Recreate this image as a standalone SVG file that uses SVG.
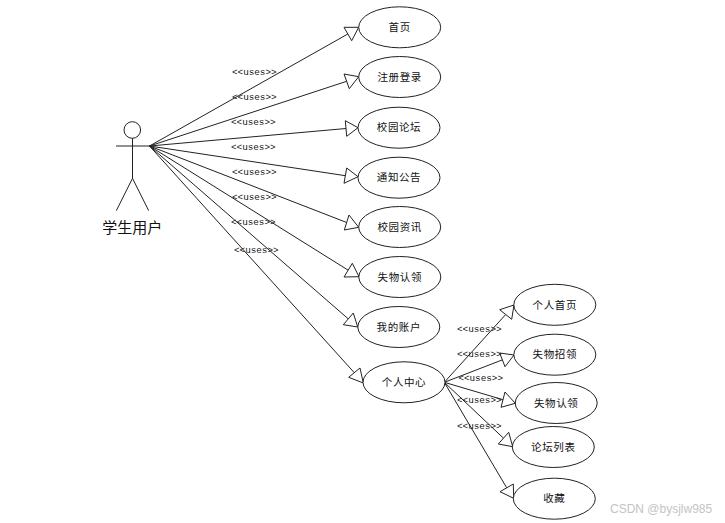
<svg xmlns="http://www.w3.org/2000/svg" width="725" height="523" viewBox="0 0 725 523">
<style>
.bg{fill:#fff}
ellipse{fill:#fff;stroke:#222;stroke-width:1}
.c line,.a line,.a circle{stroke:#222;stroke-width:1;fill:#fff}
.c polygon{fill:#fff;stroke:#222;stroke-width:1}
text{fill:#111;text-anchor:middle}
.n{font:10.5px "Noto Sans CJK SC","Noto Sans",sans-serif;letter-spacing:.6px;dominant-baseline:central;transform:translateY(-.7px)}
.u{font:9.3px "Liberation Mono",monospace;dominant-baseline:central;transform:translateY(.8px)}
.t{font:15px "Noto Sans CJK SC",sans-serif;dominant-baseline:central}
.w{font:12px "Liberation Sans",sans-serif;fill:#c4c4c4;text-anchor:start}
</style>
<rect class="bg" width="725" height="523"/>
<g id="connectors" class="c">
<line x1="149.5" y1="146" x2="347.8" y2="34"/><polygon points="358.7,27.3 344,27.3 351.7,40.7"/>
<line x1="149.5" y1="146" x2="346.7" y2="81.3"/><polygon points="358.7,76.7 344,74 349.3,88.7"/>
<line x1="149.5" y1="146" x2="346" y2="128.5"/><polygon points="358,127.7 345.3,120.7 346.7,136.3"/>
<line x1="149.5" y1="146" x2="345.4" y2="175.7"/><polygon points="358,176.7 346.7,168 344,183.3"/>
<line x1="149.5" y1="146" x2="346.7" y2="222.5"/><polygon points="358.7,227.3 349,215 344.3,230"/>
<line x1="149.5" y1="146" x2="348.2" y2="270.2"/><polygon points="359,276.7 352.3,263.3 344,277"/>
<line x1="149.5" y1="146" x2="348.3" y2="318.9"/><polygon points="357.7,327 353.3,313 343.3,324.7"/>
<line x1="149.5" y1="146" x2="354.3" y2="372.7"/><polygon points="363.3,383 360,368 348.7,377.3"/>
<line x1="444.3" y1="382.3" x2="505.7" y2="314.5"/><polygon points="514,305 499.7,309.7 511.7,319.3"/>
<line x1="444.3" y1="382.3" x2="502.3" y2="359.9"/><polygon points="514,355 499.7,353 505,366.7"/>
<line x1="444.3" y1="382.3" x2="503" y2="399.7"/><polygon points="515.3,403.3 505,392 501,407.3"/>
<line x1="444.3" y1="382.3" x2="503.5" y2="438.2"/><polygon points="512.7,446.7 508.7,432.3 498.3,444"/>
<line x1="444.3" y1="382.3" x2="506.7" y2="487.8"/><polygon points="513.7,498.3 513.3,484 500,491.7"/>
<text class="u" x="254.3" y="71.7">&lt;&lt;uses&gt;&gt;</text>
<text class="u" x="254.3" y="96.7">&lt;&lt;uses&gt;&gt;</text>
<text class="u" x="253.3" y="121.7">&lt;&lt;uses&gt;&gt;</text>
<text class="u" x="253.3" y="146.7">&lt;&lt;uses&gt;&gt;</text>
<text class="u" x="254.3" y="171.7">&lt;&lt;uses&gt;&gt;</text>
<text class="u" x="254.3" y="196.7">&lt;&lt;uses&gt;&gt;</text>
<text class="u" x="253.3" y="221.7">&lt;&lt;uses&gt;&gt;</text>
<text class="u" x="256.3" y="249.3">&lt;&lt;uses&gt;&gt;</text>
<text class="u" x="479.3" y="328.7">&lt;&lt;uses&gt;&gt;</text>
<text class="u" x="479.3" y="353.7">&lt;&lt;uses&gt;&gt;</text>
<text class="u" x="480.7" y="377.7">&lt;&lt;uses&gt;&gt;</text>
<text class="u" x="479.3" y="399.7">&lt;&lt;uses&gt;&gt;</text>
<text class="u" x="479.3" y="425.3">&lt;&lt;uses&gt;&gt;</text>
</g>
<g id="actor" class="a">
<circle cx="132.3" cy="130" r="8.3"/>
<line x1="116" y1="146" x2="149.5" y2="146"/>
<line x1="132.5" y1="138.3" x2="132.5" y2="178.3"/>
<line x1="132.5" y1="178.3" x2="116.3" y2="210.7"/>
<line x1="132.5" y1="178.3" x2="148.7" y2="210.7"/>
<text class="t" x="132.3" y="226">学生用户</text>
</g>
<g id="n1"><ellipse cx="399.7" cy="27.3" rx="41" ry="20.5"/><text class="n" x="399.7" y="27.3">首页</text></g>
<g id="n2"><ellipse cx="399.7" cy="77" rx="41" ry="20.5"/><text class="n" x="399.7" y="77">注册登录</text></g>
<g id="n3"><ellipse cx="399" cy="127.7" rx="41" ry="20.5"/><text class="n" x="399" y="127.7">校园论坛</text></g>
<g id="n4"><ellipse cx="399" cy="177.7" rx="41" ry="20.5"/><text class="n" x="399" y="177.7">通知公告</text></g>
<g id="n5"><ellipse cx="399.7" cy="227" rx="41" ry="20.5"/><text class="n" x="399.7" y="227">校园资讯</text></g>
<g id="n6"><ellipse cx="399.8" cy="277" rx="41" ry="20.5"/><text class="n" x="399.8" y="277">失物认领</text></g>
<g id="n7"><ellipse cx="398.8" cy="327" rx="41" ry="20.5"/><text class="n" x="398.8" y="327">我的账户</text></g>
<g id="n8"><ellipse cx="404" cy="382.3" rx="41" ry="20.5"/><text class="n" x="404" y="382.3">个人中心</text></g>
<g id="n9"><ellipse cx="554.8" cy="304.8" rx="41" ry="20.5"/><text class="n" x="554.8" y="304.8">个人首页</text></g>
<g id="n10"><ellipse cx="554.8" cy="354.7" rx="41" ry="20.5"/><text class="n" x="554.8" y="354.7">失物招领</text></g>
<g id="n11"><ellipse cx="556.2" cy="403" rx="41" ry="20.5"/><text class="n" x="556.2" y="403">失物认领</text></g>
<g id="n12"><ellipse cx="553.3" cy="447" rx="41" ry="20.5"/><text class="n" x="553.3" y="447">论坛列表</text></g>
<g id="n13"><ellipse cx="554.3" cy="498.7" rx="41" ry="20.5"/><text class="n" x="554.3" y="498.7">收藏</text></g>
<text class="w" x="610" y="513">CSDN @bysjlw985</text>
</svg>
